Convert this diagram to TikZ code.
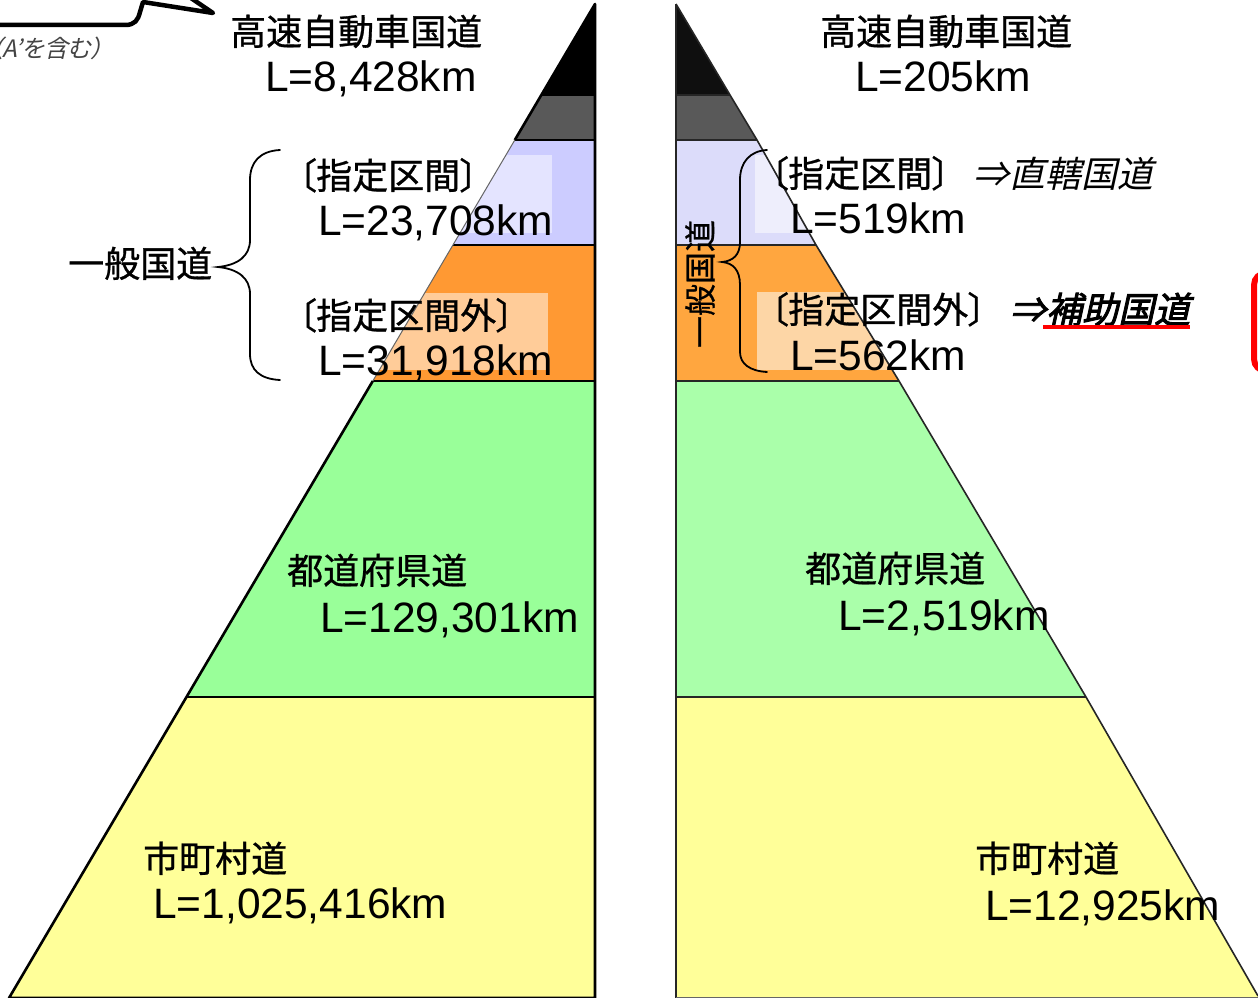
\documentclass[tikz,border=0pt]{standalone}
\usepackage{fontspec}
\setmainfont{Liberation Sans}
\newfontfamily\jp[FakeBold=0.8]{Noto Sans CJK JP}
\newfontfamily\jpp[RawFeature={+palt},FakeBold=0.8]{Noto Sans CJK JP}
\newfontfamily\jpit[FakeSlant=0.22,RawFeature={+palt}]{Noto Sans CJK JP}
\newfontfamily\jpbi[FakeSlant=0.22,FakeBold=2.5,RawFeature={+palt}]{Noto Sans CJK JP}
\definecolor{blk}{HTML}{000000}
\definecolor{blkR}{HTML}{0F0F0F}
\definecolor{dgrey}{HTML}{595959}
\definecolor{lavL}{HTML}{CCCCFF}
\definecolor{lavR}{HTML}{DCDCFA}
\definecolor{orgL}{HTML}{FF9933}
\definecolor{orgR}{HTML}{FFA63F}
\definecolor{grnL}{HTML}{99FF99}
\definecolor{grnR}{HTML}{AAFFAA}
\definecolor{yel}{HTML}{FFFF99}
\definecolor{lavLt}{HTML}{E4E4FF}
\definecolor{orgLt}{HTML}{FFCC99}
\definecolor{lavRt}{HTML}{EEEEFC}
\definecolor{orgRt}{HTML}{FDD6A6}
\definecolor{callgrey}{HTML}{444444}
\tikzset{
  jt/.style={font=\jp\fontsize{36}{40}\selectfont, inner sep=0pt, anchor=base west},
  jb/.style={font=\jpp\fontsize{36}{40}\selectfont, inner sep=0pt, anchor=base west},
  lt/.style={font=\fontsize{42.5}{46}\selectfont, inner sep=0pt, anchor=base west},
  sep/.style={line width=2pt, draw=black},
  bracepath/.style={line width=1.8pt, draw=black, line cap=round},
}
\begin{document}
\begin{tikzpicture}[x=1pt,y=-1pt]
\useasboundingbox (0,0) rectangle (1258,998);
\fill[white] (0,0) rectangle (1258,998);
\begin{scope}
\clip (0,0) rectangle (1258,998);
% ---------- left pyramid ----------
\coordinate (LA) at (595,4);
\coordinate (L1) at (541.4,95);  \coordinate (R1) at (595,95);
\coordinate (L2) at (514.8,140); \coordinate (R2) at (595,140);
\coordinate (L3) at (452.9,245); \coordinate (R3) at (595,245);
\coordinate (L4) at (372.8,381); \coordinate (R4) at (595,381);
\coordinate (L5) at (186.5,697); \coordinate (R5) at (595,697);
\coordinate (L6) at (9,998);     \coordinate (R6) at (595,998);
\fill[blk] (LA) -- (L1) -- (R1) -- cycle;
\fill[dgrey] (L1) -- (L2) -- (R2) -- (R1) -- cycle;
\fill[lavL] (L2) -- (L3) -- (R3) -- (R2) -- cycle;
\fill[orgL] (L3) -- (L4) -- (R4) -- (R3) -- cycle;
\fill[grnL] (L4) -- (L5) -- (R5) -- (R4) -- cycle;
\fill[yel] (L5) -- (L6) -- (R6) -- (R5) -- cycle;
\begin{scope}
\clip (L2) -- (L3) -- (R3) -- (R2) -- cycle;
\fill[lavLt] (290,155) rectangle (552,233);
\end{scope}
\begin{scope}
\clip (L3) -- (L4) -- (R4) -- (R3) -- cycle;
\fill[orgLt] (290,293) rectangle (548,370);
\end{scope}
\draw[sep] (L1) -- (R1); \draw[sep] (L2) -- (R2); \draw[sep] (L3) -- (R3);
\draw[sep] (L4) -- (R4); \draw[sep] (L5) -- (R5);
\draw[line width=2.6pt, line join=round] (L2) -- (LA) -- (R6) -- (L6) -- (372.8,381);
\draw[line width=1pt, draw=black!60] (L2) -- (L4);
% ---------- right pyramid ----------
\coordinate (PA) at (676,4);
\coordinate (Q1) at (730,95);   \coordinate (P1) at (676,95);
\coordinate (Q2) at (757,140);  \coordinate (P2) at (676,140);
\coordinate (Q3) at (816,245);  \coordinate (P3) at (676,245);
\coordinate (Q4) at (899,381);  \coordinate (P4) at (676,381);
\coordinate (Q5) at (1086,697); \coordinate (P5) at (676,697);
\coordinate (Q6) at (1258,996); \coordinate (P6) at (676,998);
\fill[blkR] (PA) -- (Q1) -- (P1) -- cycle;
\fill[dgrey] (P1) -- (Q1) -- (Q2) -- (P2) -- cycle;
\fill[lavR] (P2) -- (Q2) -- (Q3) -- (P3) -- cycle;
\fill[orgR] (P3) -- (Q3) -- (Q4) -- (P4) -- cycle;
\fill[grnR] (P4) -- (Q4) -- (Q5) -- (P5) -- cycle;
\fill[yel] (P5) -- (Q5) -- (Q6) -- (1258,998) -- (P6) -- cycle;
\begin{scope}
\clip (P2) -- (Q2) -- (Q3) -- (P3) -- cycle;
\fill[lavRt] (755,155) rectangle (1000,233);
\end{scope}
\begin{scope}
\clip (P3) -- (Q3) -- (Q4) -- (P4) -- cycle;
\fill[orgRt] (757,292) rectangle (1000,370);
\end{scope}
\draw[sep, draw=black!85] (P1) -- (Q1); \draw[sep, draw=black!85] (P2) -- (Q2);
\draw[sep, draw=black!85] (P3) -- (Q3); \draw[sep, draw=black!85] (P4) -- (Q4);
\draw[sep, draw=black!85] (P5) -- (Q5);
\draw[line width=2.6pt, draw=black!85] (P6) -- (PA);
\draw[line width=1.6pt, draw=black!85, line join=round] (PA) -- (Q1) -- (Q2) -- (Q3) -- (Q4) -- (Q5) -- (Q6);
\draw[line width=1.6pt, draw=black!60] (P6) -- (1258,998);
% ---------- callout at top left ----------
\draw[line width=4.5pt, line join=round, line cap=round] (-5,25) -- (125,25) .. controls (135,25) and (138,20) .. (140,12) -- (143,2) -- (213,13) -- (185,-6);
\node[font=\jpit\fontsize{24}{26}\selectfont, text=callgrey, inner sep=0pt, anchor=base west] (incl) at (-10,58) {（A’を含む）};
% ---------- red frame at right edge ----------
\draw[red, line width=6pt, rounded corners=12pt] (1254,273) rectangle (1330,371);
\end{scope}
% ---------- left texts ----------
\node[jt] (kosokuL) at (230,45) {高速自動車国道};
\node[lt] (kosokuLlen) at (265,92) {L=8,428km};
\node[jb] (shiteiL) at (298,189) {〔指定区間〕};
\node[lt] (shiteiLlen) at (318,235) {L=23,708km};
\node[jb] (shiteigaiL) at (298,329) {〔指定区間外〕};
\node[lt] (shiteigaiLlen) at (318,375) {L=31,918km};
\node[jt] (ippanL) at (68,277) {一般国道};
\node[jt] (todoL) at (287,584) {都道府県道};
\node[lt] (todoLlen) at (320,632) {L=129,301km};
\node[jt] (shiL) at (143,872) {市町村道};
\node[lt] (shiLlen) at (153,918) {L=1,025,416km};
\draw[bracepath] (280,150) .. controls (260,151) and (250,162) .. (250,180) -- (250,240)
  .. controls (250,256) and (238,265) .. (218,267)
  .. controls (238,269) and (250,278) .. (250,294) -- (250,354)
  .. controls (250,370) and (260,379) .. (280,380);
% ---------- right texts ----------
\node[jt] (kosokuR) at (820,45) {高速自動車国道};
\node[lt] (kosokuRlen) at (855,92) {L=205km};
\node[jb] (shiteiR) at (770,187) {〔指定区間〕};
\node[font=\jpit\fontsize{36}{40}\selectfont, inner sep=0pt, anchor=base west] (chokkatsu) at (973,187) {⇒直轄国道};
\node[lt] (shiteiRlen) at (790,233) {L=519km};
\node[jb] (shiteigaiR) at (770,323) {〔指定区間外〕};
\node[font=\jpbi\fontsize{36}{40}\selectfont, inner sep=0pt, anchor=base west] (hojo) at (1010,323) {⇒補助国道};
\draw[red, line width=4pt] (1043,327) -- (1190,327);
\node[lt] (shiteigaiRlen) at (790,370) {L=562km};
\node[font=\jp\fontsize{32}{36}\selectfont, rotate=90, inner sep=0pt] (ippanR) at (700,284) {一般国道};
\draw[bracepath] (767,150) .. controls (750,151) and (740,162) .. (740,180) -- (740,242)
  .. controls (740,255) and (733,261) .. (722,262)
  .. controls (733,263) and (740,270) .. (740,285) -- (740,352)
  .. controls (740,364) and (750,371) .. (767,372);
\node[jt] (todoR) at (805,582) {都道府県道};
\node[lt] (todoRlen) at (838,630) {L=2,519km};
\node[jt] (shiR) at (975,872) {市町村道};
\node[lt] (shiRlen) at (985,920) {L=12,925km};
\end{tikzpicture}
\end{document}
